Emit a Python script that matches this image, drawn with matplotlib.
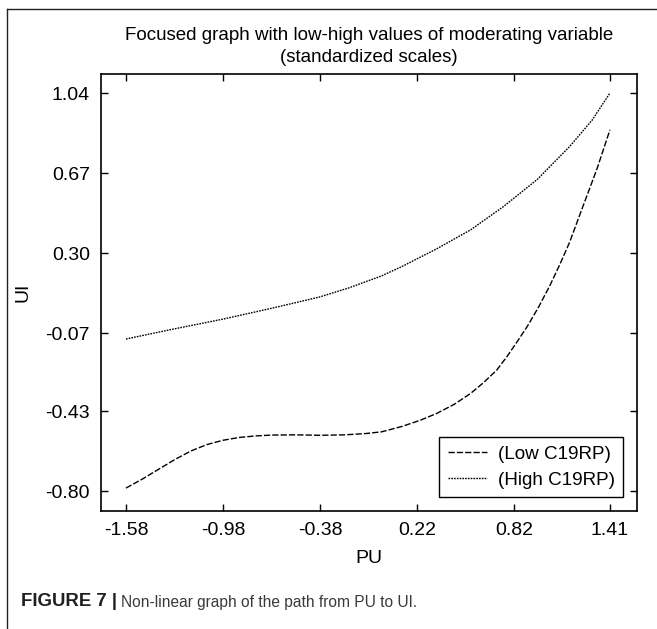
import matplotlib
matplotlib.use("Agg")
import matplotlib.pyplot as plt
from matplotlib.lines import Line2D

plt.rcParams['font.family'] = ['Liberation Sans', 'DejaVu Sans']

# Data
low_x = [-1.58, -1.48, -1.38, -1.28, -1.18, -1.08, -0.98, -0.88, -0.78, -0.68, -0.53, -0.38, -0.23,
         -0.10, 0.00, 0.13, 0.24, 0.34, 0.45, 0.55, 0.63, 0.71, 0.77, 0.83, 0.90, 0.97, 1.04, 1.10,
         1.16, 1.24, 1.33, 1.41]
low_y = [-0.786, -0.745, -0.700, -0.655, -0.615, -0.585, -0.565, -0.552, -0.545, -0.541, -0.540, -0.542,
         -0.540, -0.534, -0.526, -0.500, -0.472, -0.441, -0.398, -0.348, -0.298, -0.241, -0.182, -0.117,
         -0.038, 0.052, 0.152, 0.247, 0.349, 0.510, 0.690, 0.870]
high_x = [-1.58, -1.28, -0.98, -0.68, -0.38, -0.20, 0.00, 0.13, 0.34, 0.55, 0.75, 0.96, 1.16, 1.30, 1.41]
high_y = [-0.097, -0.050, -0.005, 0.045, 0.098, 0.140, 0.195, 0.240, 0.320, 0.408, 0.514, 0.640, 0.792,
          0.915, 1.040]
x_ticks = [-1.58, -0.98, -0.38, 0.22, 0.82, 1.41]
y_ticks = [-0.80, -0.43, -0.07, 0.30, 0.67, 1.04]
series_labels = ["(Low C19RP)", "(High C19RP)"]
title_lines = ["Focused graph with low-high values of moderating variable", "(standardized scales)"]

W, H = 657, 629
fig = plt.figure(figsize=(W / 100, H / 100), dpi=100)
ax = fig.add_axes([101 / W, 1 - 511 / H, (637 - 101) / W, (511 - 74) / H])

ax.plot(low_x, low_y, color='black', lw=1.0, linestyle=(0, (4.5, 1.5)), label=series_labels[0])
ax.plot(high_x, high_y, color='black', lw=1.0, linestyle=(0, (1.2, 0.8)), label=series_labels[1])

ax.set_xlim(-1.734, 1.577)
ax.set_ylim(-0.892, 1.128)
ax.set_xticks(x_ticks)
ax.set_xticklabels([f"{v:.2f}" for v in x_ticks])
ax.set_yticks(y_ticks)
ax.set_yticklabels([f"{v:.2f}" for v in y_ticks])
ax.tick_params(direction='in', length=5, width=1, top=True, right=True,
               labelsize=14, pad=8)
for s in ax.spines.values():
    s.set_linewidth(1.2)

ax.set_xlabel("PU", fontsize=14, labelpad=8)
ax.set_ylabel("UI", fontsize=14, labelpad=10)

cx = (101 + 637) / 2 / W
fig.text(cx, 1 - 35 / H, title_lines[0], fontsize=13.5, ha='center', va='center')
fig.text(cx, 1 - 57 / H, title_lines[1], fontsize=13.5, ha='center', va='center')

leg = ax.legend(loc='lower right', bbox_to_anchor=(0.974, 0.032), borderaxespad=0,
                fontsize=13.6, frameon=True, fancybox=False, handlelength=2.1,
                handletextpad=0.55, borderpad=0.45, labelspacing=0.45,
                edgecolor='black', framealpha=1)
leg.get_frame().set_linewidth(1.0)

# Outer frame lines
fig.add_artist(Line2D([7 / W, 7 / W], [0, 1 - 9 / H], color='#222222', lw=1.0, transform=fig.transFigure))
fig.add_artist(Line2D([7 / W, 1], [1 - 9 / H, 1 - 9 / H], color='#222222', lw=1.0, transform=fig.transFigure))

# Caption
narrow = ['Liberation Sans Narrow', 'Liberation Sans', 'DejaVu Sans']
fig.canvas.draw()
r = fig.canvas.get_renderer()
t1 = fig.text(21 / W, 1 - 602 / H, "FIGURE 7 |", fontsize=13, fontweight='bold', color='#231f20',
              family=narrow, va='center', ha='left')
bb = t1.get_window_extent(renderer=r)
t1.set_fontsize(13 * 96 / bb.width)
bb = t1.get_window_extent(renderer=r)
t2 = fig.text((bb.x1 + 4) / W, 1 - 602 / H, "Non-linear graph of the path from PU to UI.", fontsize=12,
              family=narrow, color='#3a3a3a', va='center', ha='left')
bb2 = t2.get_window_extent(renderer=r)
t2.set_fontsize(12 * 296 / bb2.width)

fig.savefig("out.png", dpi=100)
